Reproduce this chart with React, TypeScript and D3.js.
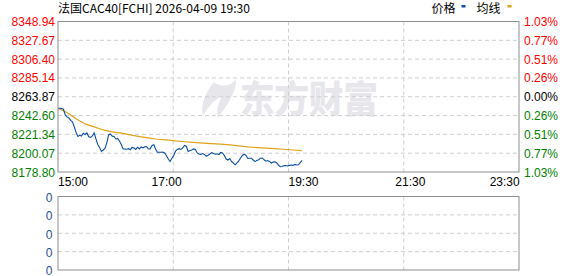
import React from "react";
import * as d3 from "d3";

const TITLE = "法国CAC40[FCHI] 2026-04-09 19:30";
const LEGEND = ["价格", "均线"];
const PRICE_TICKS = ["8348.94", "8327.67", "8306.40", "8285.14", "8263.87", "8242.60", "8221.34", "8200.07", "8178.80"];
const PCT_TICKS = ["1.03%", "0.77%", "0.51%", "0.26%", "0.00%", "0.26%", "0.51%", "0.77%", "1.03%"];
const TIME_TICKS = ["15:00", "17:00", "19:30", "21:30", "23:30"];
const VOL_TICKS = ["0", "0", "0", "0", "0"];
const PRICE_MIN = 8178.8;
const PRICE_MAX = 8348.94;
const SESSION_MINUTES = 510;
const PRICE_STEP_MIN = 2;
const AVG_STEP_MIN = 10;

// price every 2 minutes from 15:00
const prices = [
  8250.91, 8250.8, 8250.57, 8249.78, 8243.32, 8241.06, 8239.93, 8237.1, 8235.4, 8229.74,
  8223.51, 8218.99, 8220.34, 8219.55, 8222.61, 8221.25, 8222.95, 8218.65, 8217.85, 8219.55,
  8222.95, 8216.16, 8209.93, 8206.53, 8202.01, 8203.7, 8205.63, 8211.63, 8220.68, 8221.82,
  8219.33, 8218.99, 8216.16, 8216.72, 8213.89, 8209.93, 8204.84, 8204.84, 8204.5, 8205.18,
  8204.04, 8206.53, 8205.97, 8204.27, 8206.76, 8204.84, 8207.1, 8206.19, 8207.33, 8207.44,
  8204.84, 8204.84, 8208.8, 8209.59, 8204.5, 8201.21, 8201.1, 8201.1, 8201.21, 8200.31,
  8197.25, 8193.52, 8190.69, 8194.31, 8197.48, 8202.35, 8204.27, 8205.18, 8204.27, 8205.97,
  8208.8, 8207.89, 8202.01, 8203.14, 8203.7, 8204.95, 8204.27, 8200.31, 8199.18, 8198.61,
  8199.63, 8198.61, 8196.57, 8197.82, 8199.18, 8200.65, 8199.63, 8198.95, 8199.4, 8198.61,
  8200.87, 8200.31, 8197.48, 8193.52, 8192.38, 8194.08, 8190.69, 8188.87, 8186.95, 8189.21,
  8191.25, 8194.65, 8197.48, 8198.95, 8197.48, 8194.08, 8194.42, 8194.31, 8192.38, 8190.57,
  8191.93, 8192.72, 8194.42, 8194.65, 8192.61, 8191.03, 8191.7, 8190.8, 8188.99, 8190.01,
  8190.35, 8188.99, 8186.38, 8184.8, 8185.03, 8186.04, 8186.16, 8185.59, 8186.27, 8186.72,
  8186.27, 8187.4, 8186.72, 8186.95, 8189.44, 8191.82,
];

// average line every 10 minutes from 15:00
const averages = [
  8250.91, 8246.15, 8239.02, 8233.14, 8229.74, 8226.34, 8224.19, 8222.72, 8220.68, 8218.87,
  8217.29, 8215.82, 8215.02, 8213.89, 8212.99, 8212.19, 8211.51, 8210.95, 8210.38, 8209.36,
  8208.23, 8207.21, 8206.42, 8205.85, 8205.18, 8204.5, 8203.7, 8202.91,
];

const W = 578;
const H = 276;
const L = 58;
const R = 519;
const T = 21.5;
const B = 172;
const VT = 196.5;
const VB = 270;

const labelColor = (i: number, n: number) => {
  const mid = (n - 1) / 2;
  if (i < mid) return "#ff0000";
  if (i > mid) return "#008000";
  return "#000000";
};

export default function App() {
  const x = d3.scaleLinear().domain([0, SESSION_MINUTES]).range([L, R]);
  const y = d3.scaleLinear().domain([PRICE_MIN, PRICE_MAX]).range([B, T]);
  const yGrid = d3.scaleLinear().domain([0, PRICE_TICKS.length - 1]).range([T, B]);
  const vGrid = d3.scaleLinear().domain([0, VOL_TICKS.length - 1]).range([VT, VB]);
  const tickMinutes = TIME_TICKS.map((_, i) => (SESSION_MINUTES * i) / (TIME_TICKS.length - 1));
  const labelOffsets = [0, -21.7, 0, -8.4, -29.3];

  const priceLine = d3
    .line<number>()
    .x((_, i) => x(i * PRICE_STEP_MIN))
    .y((d) => y(d));
  const avgLine = d3
    .line<number>()
    .x((_, i) => x(i * AVG_STEP_MIN))
    .y((d) => y(d));

  const font = "'Liberation Sans', Arial, sans-serif";
  const cjk = "'Noto Sans CJK SC', sans-serif";

  return (
    <svg width={W} height={H} style={{ position: "absolute", left: 0, top: 0, background: "#fff" }}>
      <rect width={W} height={H} fill="#fff" />
      {/* watermark */}
      <g fill="#e6e6eb">
        <path d="M214 82 C206 92 200 104 203 116 C207 108 214 100 222 96 C218 104 216 110 218 118 C226 106 236 94 236 80 C230 86 222 88 214 82 Z" />
        <text x={240} y={113} fontFamily={cjk} fontWeight={900} fontSize={37} textLength={138} lengthAdjust="spacingAndGlyphs">
          东方财富
        </text>
      </g>

      {/* main grid */}
      {PRICE_TICKS.map((_, i) =>
        i > 0 && i < PRICE_TICKS.length - 1 ? (
          <line key={"h" + i} x1={L} x2={R} y1={yGrid(i)} y2={yGrid(i)} stroke="#cfcfcf" strokeDasharray="4,3" />
        ) : null
      )}
      {tickMinutes.slice(1, -1).map((m, i) => (
        <line key={"v" + i} x1={x(m)} x2={x(m)} y1={T} y2={B} stroke="#cfcfcf" strokeDasharray="4,3" />
      ))}

      {/* lines */}
      <path d={avgLine(averages) || ""} fill="none" stroke="#e0a21c" strokeWidth={1.2} />
      <path d={priceLine(prices) || ""} fill="none" stroke="#0b4ea2" strokeWidth={1.1} />

      <rect x={L} y={T} width={R - L} height={B - T} fill="none" stroke="#8e8e8e" />

      {/* title & legend */}
      <text x={L} y={13} fontFamily={cjk} fontSize={12} fill="#000" textLength={192} lengthAdjust="spacingAndGlyphs">
        {TITLE}
      </text>
      <text x={431.5} y={13} fontFamily={cjk} fontSize={12} fill="#000">{LEGEND[0]}</text>
      <rect x={461.5} y={5} width={4} height={2.5} fill="#0b4ea2" />
      <text x={476.5} y={13} fontFamily={cjk} fontSize={12} fill="#000">{LEGEND[1]}</text>
      <rect x={507.5} y={5} width={4} height={2.5} fill="#e0a21c" />

      {/* y labels */}
      {PRICE_TICKS.map((t, i) => (
        <text key={"pl" + i} x={55} y={yGrid(i) + 4.5} textAnchor="end" fontFamily={font} fontSize={12} fill={labelColor(i, PRICE_TICKS.length)}>
          {t}
        </text>
      ))}
      {PCT_TICKS.map((t, i) => (
        <text key={"pr" + i} x={524} y={yGrid(i) + 4.5} fontFamily={font} fontSize={12} fill={labelColor(i, PCT_TICKS.length)}>
          {t}
        </text>
      ))}

      {/* x labels */}
      {TIME_TICKS.map((t, i) => (
        <text key={"xt" + i} x={x(tickMinutes[i]) + labelOffsets[i]} y={185.5} fontFamily={font} fontSize={12} fill="#000">
          {t}
        </text>
      ))}

      {/* volume panel */}
      {VOL_TICKS.map((_, i) =>
        i > 0 && i < VOL_TICKS.length - 1 ? (
          <line key={"vh" + i} x1={L} x2={R} y1={vGrid(i)} y2={vGrid(i)} stroke="#cfcfcf" strokeDasharray="4,3" />
        ) : null
      )}
      {tickMinutes.slice(1, -1).map((m, i) => (
        <line key={"vv" + i} x1={x(m)} x2={x(m)} y1={VT} y2={VB} stroke="#cfcfcf" strokeDasharray="4,3" />
      ))}
      <rect x={L} y={VT} width={R - L} height={VB - VT} fill="none" stroke="#8e8e8e" />
      {VOL_TICKS.map((t, i) => (
        <text key={"vl" + i} x={52.5} y={Math.min(vGrid(i) + 5.5, H - 1.5)} textAnchor="end" fontFamily={font} fontSize={12} fill="#1f4f9e">
          {t}
        </text>
      ))}
    </svg>
  );
}
